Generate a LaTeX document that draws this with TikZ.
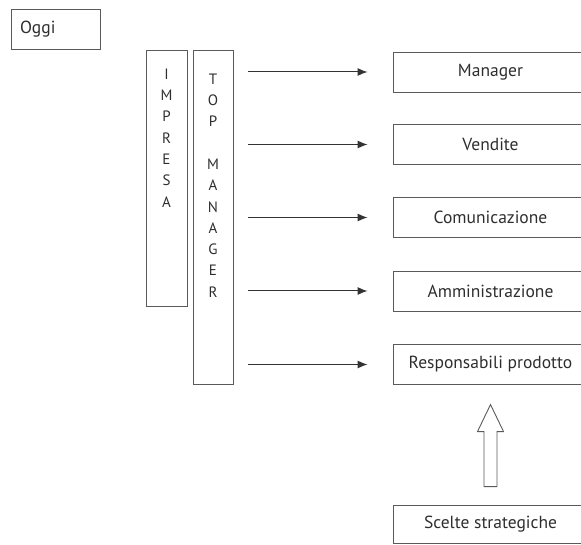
\documentclass[tikz,border=0pt]{standalone}
\usepackage{fontspec}
\setmainfont{PT Sans}
\usetikzlibrary{positioning, arrows.meta}
\definecolor{linegray}{HTML}{5A5A5A}
\definecolor{arrowgray}{HTML}{333333}
\definecolor{textgray}{HTML}{2E2E2E}
\tikzset{
    box/.style={draw=linegray, line width=0.9pt, rectangle, text=textgray,
        minimum height=40pt, font=\fontsize{17.5}{20}\selectfont},
    rolebox/.style={box, minimum width=195pt},
    tallbox/.style={draw=linegray, line width=0.9pt, rectangle, minimum width=40pt},
    letters/.style={text=textgray, align=center, inner sep=0pt, anchor=north,
        font=\fontsize{15}{21.3}\selectfont},
    link/.style={-{Latex[length=10pt, width=8pt]}, draw=arrowgray, fill=arrowgray, line width=1pt}
}
\begin{document}
\begin{tikzpicture}[x=1pt, y=-1pt]
    \useasboundingbox (0,0) rectangle (581,545);

                % Label box
                \node[box, minimum width=89pt, text width=71pt, inner xsep=9pt, align=left] (oggi) at (55.5,29.5) {Oggi};

                % Vertical boxes
                \node[tallbox, minimum width=41pt, minimum height=256pt] (impresa) at (166.5,178) {};
                \node[tallbox, minimum height=334pt] (topman) at (213,217) {};
                \node[letters, below=19pt of impresa.north] (impresatxt) {I\\M\\P\\R\\E\\S\\A};
                \node[letters, below=24pt of topman.north] (topmantxt) {T\\O\\P\\\mbox{}\\M\\A\\N\\A\\G\\E\\R};

                % Functions
                \node[rolebox] (manager) at (490.5,72) {Manager};
                \node[rolebox] (vendite) at (490.5,144.5) {Vendite};
                \node[rolebox] (comunicazione) at (490.5,217.5) {Comunicazione};
                \node[rolebox] (amministrazione) at (490.5,291) {Amministrazione};
                \node[rolebox] (responsabili) at (490.5,364.5) {Responsabili prodotto};
                \node[rolebox, minimum height=38pt] (scelte) at (490.5,524) {Scelte strategiche};

                % Arrows from top manager
                \foreach \n in {manager, vendite, comunicazione, amministrazione, responsabili}
                    \draw[link, shorten <=15pt, shorten >=25pt] (topman.east |- \n.west) -- (\n.west);

                % Hollow arrow
                \coordinate (tail) at ([yshift=18pt]scelte.north);
                \draw[draw=linegray, line width=0.9pt] (tail) ++(-6.5,0) -- ++(0,-55) -- ++(-6.5,0)
                    -- ++(13,-27) -- ++(13,27) -- ++(-6.5,0) -- ++(0,55) -- cycle;

\end{tikzpicture}
\end{document}
